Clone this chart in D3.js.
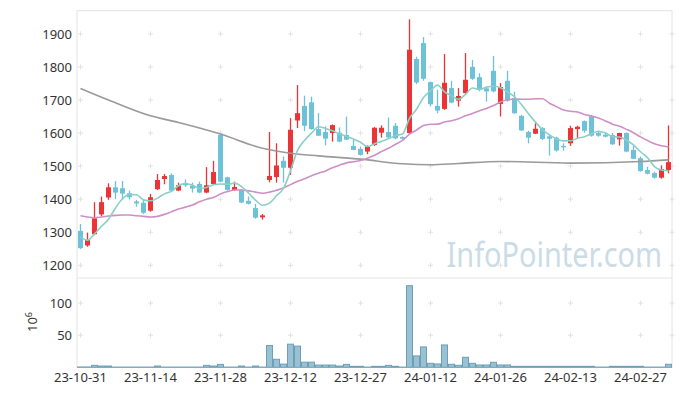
<!DOCTYPE html>
<html>
<head>
<meta charset="utf-8">
<script src="https://cdn.jsdelivr.net/npm/d3@7"></script>
<style>
	body { margin: 0; background: #fff; }
	svg { display: block; font-family: "Noto Sans", sans-serif; }
</style>
</head>
<body>
<div id="chart"></div>
<script>
var dates = [
	"23-10-31",
	"23-11-01","23-11-02","23-11-03","23-11-06","23-11-07","23-11-08","23-11-09","23-11-10","23-11-13","23-11-14",
	"23-11-15","23-11-16","23-11-17","23-11-20","23-11-21","23-11-22","23-11-23","23-11-24","23-11-27","23-11-28",
	"23-11-29","23-11-30","23-12-01","23-12-04","23-12-05","23-12-06","23-12-07","23-12-08","23-12-11","23-12-12",
	"23-12-13","23-12-14","23-12-15","23-12-18","23-12-19","23-12-20","23-12-21","23-12-22","23-12-26","23-12-27",
	"23-12-28","24-01-02","24-01-03","24-01-04","24-01-05","24-01-08","24-01-09","24-01-10","24-01-11","24-01-12",
	"24-01-15","24-01-16","24-01-17","24-01-18","24-01-19","24-01-22","24-01-23","24-01-24","24-01-25","24-01-26",
	"24-01-29","24-01-30","24-01-31","24-02-01","24-02-02","24-02-05","24-02-06","24-02-07","24-02-08","24-02-13",
	"24-02-14","24-02-15","24-02-16","24-02-19","24-02-20","24-02-21","24-02-22","24-02-23","24-02-26","24-02-27",
	"24-02-28","24-02-29","24-03-04","24-03-05"
];

var opens = [1304,1260,1294,1354,1405,1436,1433,1418,1393,1389,1365,1430,1461,1473,1426,1448,1441,1446,1420,1446,
	1594,1466,1428,1428,1395,1373,1345,1458,1467,1516,1495,1638,1682,1693,1612,1603,1600,1601,1594,1561,
	1552,1544,1564,1601,1603,1622,1588,1600,1824,1872,1754,1682,1673,1736,1698,1721,1800,1769,1735,1788,
	1688,1758,1705,1652,1603,1598,1615,1590,1586,1561,1569,1612,1636,1650,1600,1595,1594,1581,1600,1549,
	1524,1488,1479,1465,1488];
var highs = [1325,1299,1391,1408,1448,1455,1455,1426,1398,1398,1416,1476,1476,1478,1450,1460,1450,1453,1497,1516,
	1597,1468,1453,1430,1408,1386,1355,1603,1569,1529,1645,1745,1713,1710,1660,1620,1626,1617,1650,1579,
	1559,1563,1618,1623,1647,1630,1590,1944,1831,1890,1756,1731,1839,1758,1736,1842,1821,1781,1739,1833,
	1751,1788,1725,1655,1607,1630,1618,1594,1589,1569,1622,1622,1638,1655,1607,1600,1600,1601,1602,1563,
	1529,1498,1483,1502,1623];
var lows = [1249,1256,1292,1349,1398,1400,1398,1399,1377,1355,1362,1428,1445,1423,1424,1437,1420,1418,1418,1443,
	1451,1426,1425,1388,1384,1341,1338,1451,1450,1450,1473,1615,1606,1610,1591,1563,1574,1572,1579,1548,
	1532,1536,1561,1586,1584,1581,1580,1598,1748,1758,1680,1660,1670,1690,1680,1718,1761,1726,1695,1723,
	1650,1695,1658,1606,1569,1597,1579,1532,1544,1547,1561,1584,1601,1589,1589,1587,1564,1562,1542,1521,
	1483,1475,1462,1462,1478];
var closes = [1252,1277,1342,1391,1436,1420,1417,1406,1387,1359,1406,1458,1470,1426,1442,1442,1432,1420,1442,1482,
	1453,1428,1437,1390,1386,1344,1351,1470,1502,1495,1610,1660,1622,1612,1592,1583,1624,1574,1580,1549,
	1534,1559,1616,1616,1587,1584,1583,1852,1753,1764,1687,1668,1752,1692,1712,1761,1764,1731,1726,1726,
	1739,1698,1660,1608,1586,1613,1582,1583,1547,1557,1615,1619,1607,1592,1592,1589,1566,1600,1544,1522,
	1485,1477,1465,1491,1512];

// volume, unit 10^6
var volumes = [0.5,0.5,3,2,2,0.3,0.3,0.3,0.3,0.3,0.3,2,0.3,0.3,0.3,0.3,0.3,0.3,3,2,
	4.5,0.3,0.3,2,0.3,2,0.3,34,12.5,5,36,33,8,8,3.5,3.5,3.5,2,4.5,1.5,
	1.5,0.3,1.5,1.5,3,1.5,0.3,127,17.7,31.7,6.2,5.2,34.8,4.7,3.1,15.6,6.2,3.6,3.6,7.8,
	3.6,3.6,1.5,1.5,1.5,1.5,1.5,1.5,1.5,1.5,1.5,1.5,1.5,1.5,0.3,0.3,1.5,1.5,1.5,1.5,
	1.5,0.3,0.3,0.3,4.7];

// moving averages before enough closes are on the chart
var ma5Head = [1285, 1276, 1295, 1318];
var ma20Head = [1350,1346,1344,1346,1349,1351,1352,1352,1350,1348,1346,1348,1354,1362,1370,1376,1382,1392,1400];
// 120 day average, read at some days
var ma120Idx = [0, 4, 10, 14, 20, 26, 30, 34, 40, 46, 50, 54, 60, 70, 80, 84];
var ma120Val = [1735, 1700, 1652, 1632, 1597, 1554, 1539, 1531, 1521, 1507, 1504, 1508, 1514, 1509, 1514, 1519];

var xTickLabels = ["23-10-31","23-11-14","23-11-28","23-12-12","23-12-27","24-01-12","24-01-26","24-02-13","24-02-27"];
var priceTicks = [1200, 1300, 1400, 1500, 1600, 1700, 1800, 1900];
var volumeTicks = [50, 100];

(function() {
	var width = 680, height = 396;
	var left = 77, right = 672, top = 10.7, mid = 278, bottom = 367.3;

	var svg = d3.select("#chart").append("svg")
		.attr("width", width)
		.attr("height", height);

	var x = d3.scaleBand().domain(dates).range([left, right]);
	var bw = x.bandwidth();
	var y = d3.scaleLinear().domain([1162.5, 1970]).range([mid - 0.3, top]);
	var yv = d3.scaleLinear().domain([0, 139]).range([bottom, mid]);

	// Frame
	svg.append("rect")
		.attr("x", left).attr("y", top)
		.attr("width", right - left).attr("height", bottom - top)
		.style("fill", "none").style("stroke", "#e4e4e4");
	svg.append("line")
		.attr("x1", left).attr("x2", right).attr("y1", mid).attr("y2", mid)
		.style("stroke", "#e4e4e4");

	// Grid crosses
	var gx = xTickLabels.map(function(d) { return x(d) + bw / 2; }).concat([right]);
	var gy = priceTicks.map(function(d) { return y(d); })
		.concat(volumeTicks.map(function(d) { return yv(d); }));
	var cross = svg.append("g").style("stroke", "#e2e2e2").style("stroke-width", 1);
	gx.forEach(function(px) {
		gy.forEach(function(py) {
			cross.append("line").attr("x1", px - 2.5).attr("x2", px + 2.5).attr("y1", py).attr("y2", py);
			cross.append("line").attr("x1", px).attr("x2", px).attr("y1", py - 2.5).attr("y2", py + 2.5);
		});
	});

	// Watermark (narrowed to the width it has in the original)
	svg.append("g")
		.attr("transform", "translate(662,267) scale(0.85,1)")
		.append("text")
			.attr("text-anchor", "end")
			.style("font-size", "34px")
			.style("fill", "#cbdce6")
			.text("InfoPointer.com");

	// Axes
	var gyAxis = svg.append("g")
		.attr("transform", "translate(" + left + ",0)")
		.call(d3.axisLeft(y).tickValues(priceTicks).tickFormat(d3.format("d")).tickSize(0).tickPadding(5));
	var gvAxis = svg.append("g")
		.attr("transform", "translate(" + left + ",0)")
		.call(d3.axisLeft(yv).tickValues(volumeTicks).tickFormat(d3.format("d")).tickSize(0).tickPadding(5));
	var gxAxis = svg.append("g")
		.attr("transform", "translate(0," + bottom + ")")
		.call(d3.axisBottom(x).tickValues(xTickLabels).tickSize(0).tickPadding(5));

	[gyAxis, gvAxis, gxAxis].forEach(function(g) {
		g.select(".domain").remove();
		g.selectAll("text")
			.style("font-family", "'Noto Sans', sans-serif")
			.style("font-size", "13px")
			.style("fill", "#333");
	});

	svg.append("text")
		.attr("transform", "translate(37,322) rotate(-90)")
		.attr("text-anchor", "middle")
		.style("font-size", "13px")
		.style("fill", "#333")
		.text("10")
		.append("tspan")
			.attr("dy", "-5")
			.style("font-size", "9px")
			.text("6");

	// Volume bars
	svg.append("g").selectAll("rect")
		.data(volumes)
		.enter().append("rect")
			.attr("x", function(d, i) { return x(dates[i]) + 0.5; })
			.attr("y", function(d) { return yv(d); })
			.attr("width", bw - 1)
			.attr("height", function(d) { return bottom - yv(d); })
			.style("fill", "#98c2d3")
			.style("stroke", "#6f9fb6")
			.style("stroke-width", 1);

	// Candles
	var candles = svg.append("g").selectAll("g")
		.data(dates)
		.enter().append("g");

	function color(i) { return closes[i] >= opens[i] ? "#ec3437" : "#6dc2d8"; }

	candles.append("line")
		.attr("x1", function(d) { return x(d) + bw / 2; })
		.attr("x2", function(d) { return x(d) + bw / 2; })
		.attr("y1", function(d, i) { return y(highs[i]); })
		.attr("y2", function(d, i) { return y(lows[i]); })
		.style("stroke", function(d, i) { return color(i); })
		.style("stroke-width", 1.3);

	candles.append("rect")
		.attr("x", function(d) { return x(d) + 1; })
		.attr("width", bw - 2)
		.attr("y", function(d, i) { return y(Math.max(opens[i], closes[i])); })
		.attr("height", function(d, i) { return Math.max(1.2, Math.abs(y(opens[i]) - y(closes[i]))); })
		.style("fill", function(d, i) { return color(i); });

	// Moving averages
	function average(n, head) {
		return closes.map(function(c, i) {
			if(i < n - 1) return head[i];
			return d3.mean(closes.slice(i - n + 1, i + 1));
		});
	}
	var ma5 = average(5, ma5Head);
	var ma20 = average(20, ma20Head);

	var line = d3.line()
		.x(function(d) { return x(dates[d[0]]) + bw / 2; })
		.y(function(d) { return y(d[1]); })
		.curve(d3.curveMonotoneX);

	var series = [
		{ pts: ma120Idx.map(function(d, i) { return [d, ma120Val[i]]; }), color: "#9a9a9a" },
		{ pts: ma20.map(function(d, i) { return [i, d]; }), color: "#cf8fc6" },
		{ pts: ma5.map(function(d, i) { return [i, d]; }), color: "#8ccfc6" }
	];
	series.forEach(function(s) {
		svg.append("path")
			.datum(s.pts)
			.attr("d", line)
			.style("fill", "none")
			.style("stroke", s.color)
			.style("stroke-width", 1.6);
	});
})();
</script>
</body>
</html>
